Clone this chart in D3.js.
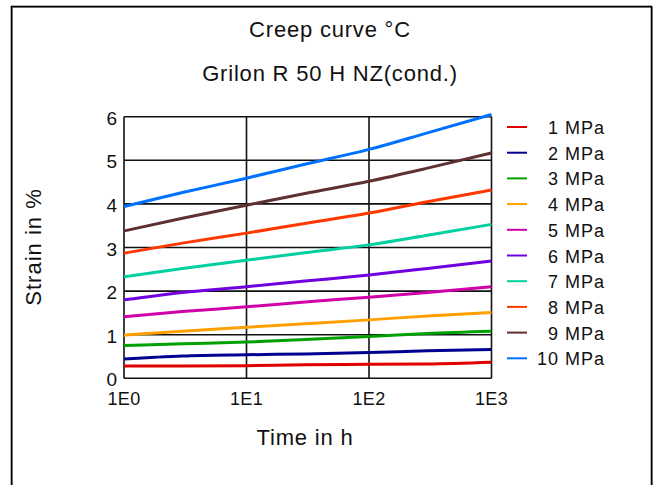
<!DOCTYPE html>
<html><head><meta charset="utf-8">
<script src="https://cdn.jsdelivr.net/npm/d3@7"></script>
<style>
html,body{margin:0;padding:0;background:#fff;}
text{font-family:"Liberation Sans",Arial,sans-serif;fill:#111;}
</style></head>
<body><svg id="c" width="657" height="485"></svg>
<script>
const times = [1, 3, 10, 30, 100, 300, 1000];
const s1  = [0.28, 0.28, 0.29, 0.31, 0.32, 0.33, 0.37];
const s2  = [0.44, 0.51, 0.54, 0.56, 0.59, 0.63, 0.66];
const s3  = [0.75, 0.79, 0.83, 0.89, 0.96, 1.03, 1.08];
const s4  = [0.99, 1.08, 1.17, 1.25, 1.34, 1.43, 1.51];
const s5  = [1.41, 1.53, 1.64, 1.75, 1.86, 1.97, 2.10];
const s6  = [1.80, 1.97, 2.10, 2.23, 2.37, 2.52, 2.69];
const s7  = [2.33, 2.52, 2.71, 2.88, 3.06, 3.28, 3.53];
const s8  = [2.87, 3.10, 3.33, 3.55, 3.79, 4.05, 4.32];
const s9  = [3.38, 3.67, 3.97, 4.24, 4.52, 4.82, 5.17];
const s10 = [3.94, 4.26, 4.59, 4.91, 5.25, 5.63, 6.05];
const seriesNames = ["1 MPa","2 MPa","3 MPa","4 MPa","5 MPa","6 MPa","7 MPa","8 MPa","9 MPa","10 MPa"];
const seriesColors = ["#e00000","#000090","#00a000","#ffa000","#d000a8","#7000e0","#00d0a0","#ff3800","#603030","#0070ff"];
const xTicks = [1, 10, 100, 1000];
const xTickLabels = ["1E0","1E1","1E2","1E3"];
const yTicks = [0,1,2,3,4,5,6];
const titleLines = ["Creep curve °C", "Grilon R 50 H NZ(cond.)"];
const xTitle = "Time in h";
const yTitle = "Strain in %";

const allSeries = [s1,s2,s3,s4,s5,s6,s7,s8,s9,s10];
const svg = d3.select("#c");

// frame
svg.append("rect").attr("x",12.5).attr("y",7.5).attr("width",640).attr("height",500)
  .attr("fill","none").attr("stroke","#999").attr("stroke-width",1);
svg.append("rect").attr("x",11.5).attr("y",6.5).attr("width",640).attr("height",500)
  .attr("fill","none").attr("stroke","#000").attr("stroke-width",1.6);

const x = d3.scaleLog().domain([1,1000]).range([124,491.5]);
const y = d3.scaleLinear().domain([0,6]).range([378.3,116.7]);

// grid
const g = svg.append("g");
g.selectAll(".vg").data(xTicks).enter().append("line")
  .attr("x1",d=>x(d)).attr("x2",d=>x(d)).attr("y1",y(0)).attr("y2",y(6))
  .attr("stroke","#111").attr("stroke-width",1.6);
g.selectAll(".hg").data(yTicks).enter().append("line")
  .attr("y1",d=>y(d)).attr("y2",d=>y(d)).attr("x1",x(1)).attr("x2",x(1000))
  .attr("stroke","#111").attr("stroke-width",1.6);

// tick labels
svg.selectAll(".xt").data(xTicks).enter().append("text")
  .attr("x",d=>x(d)).attr("y",405).attr("text-anchor","middle")
  .style("font-size","18px").style("letter-spacing","0.3px").text((d,i)=>xTickLabels[i]);
svg.selectAll(".yt").data(yTicks).enter().append("text")
  .attr("x",117).attr("y",d=>y(d)+8).attr("text-anchor","end")
  .style("font-size","19px").text(d=>d);

// titles
svg.selectAll(".ti").data(titleLines).enter().append("text")
  .attr("x",330).attr("y",(d,i)=>i===0?37:81).attr("text-anchor","middle")
  .style("font-size","22px").style("letter-spacing","0.8px").text(d=>d);
svg.append("text").attr("x",305).attr("y",445).attr("text-anchor","middle")
  .style("font-size","22px").style("letter-spacing","0.8px").text(xTitle);
svg.append("text").attr("transform","translate(41,247) rotate(-90)").attr("text-anchor","middle")
  .style("font-size","22px").style("letter-spacing","1px").text(yTitle);

// lines
const line = d3.line().x((d,i)=>x(times[i])).y(d=>y(d)).curve(d3.curveMonotoneX);
svg.selectAll(".ln").data(allSeries).enter().append("path")
  .attr("d",d=>line(d)).attr("fill","none")
  .attr("stroke",(d,i)=>seriesColors[i]).attr("stroke-width",3);

// legend
const lg = svg.selectAll(".lg").data(seriesNames).enter().append("g")
  .attr("transform",(d,i)=>`translate(0,${127+i*25.7})`);
lg.append("line").attr("x1",507).attr("x2",527).attr("y1",0).attr("y2",0)
  .attr("stroke",(d,i)=>seriesColors[i]).attr("stroke-width",2);
lg.append("text").attr("x",605).attr("y",7).attr("text-anchor","end")
  .style("font-size","18px").style("letter-spacing","1px").text(d=>d);
</script></body></html>
